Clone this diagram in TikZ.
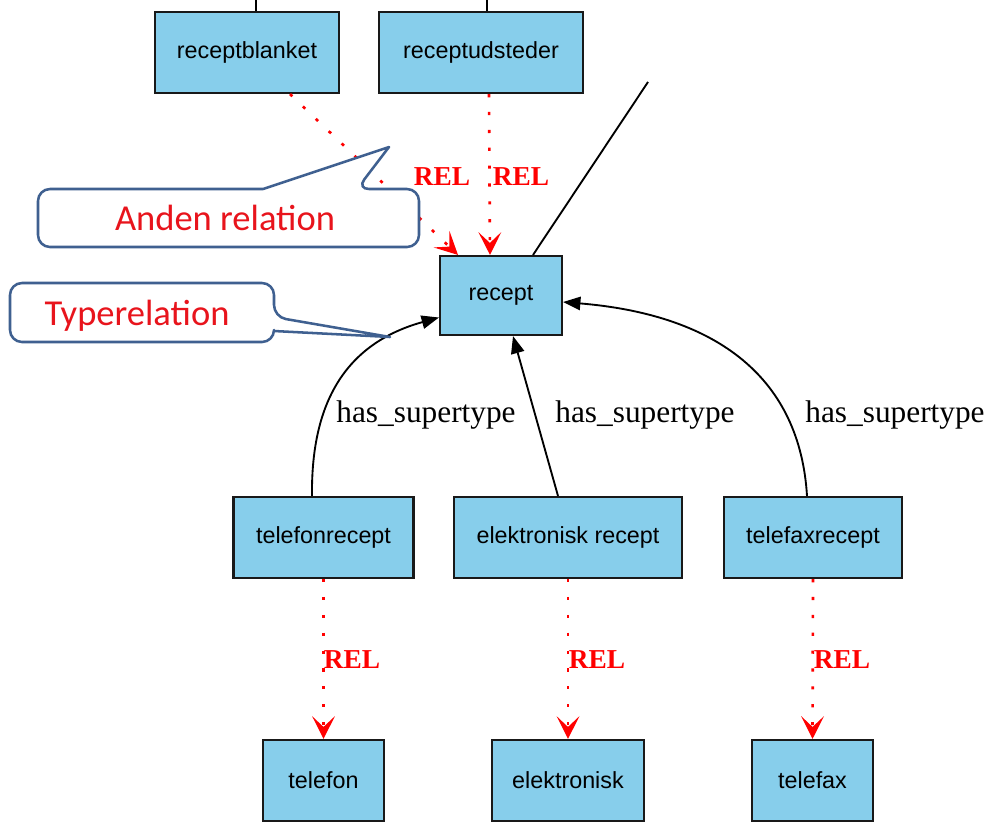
\documentclass[tikz,border=0pt]{standalone}
\usepackage{fontspec}
\setmainfont{Liberation Serif}
\newfontfamily\boxfont{Liberation Sans}
\newfontfamily\callfont{Carlito}
\usetikzlibrary{arrows.meta,calc}
\definecolor{skyfill}{HTML}{87CEEB}
\definecolor{callline}{HTML}{3F6090}
\definecolor{relred}{HTML}{FF0000}
\definecolor{calltext}{HTML}{E8141C}
\begin{document}
\begin{tikzpicture}[x=0.75pt,y=-0.75pt,
  box/.style={draw=black!90, line width=1.6pt, fill=skyfill, inner sep=0pt,
    minimum height=60.75pt, font=\boxfont\fontsize{17.5}{20}\selectfont},
  rel/.style={draw=relred, line width=2pt, dash pattern=on 2.4pt off 11pt,
    -{Stealth[length=17pt,width=17pt,inset=8pt]}},
  sup/.style={draw=black, line width=1.4pt, -{Triangle[length=13pt,width=10pt]}},
  plain/.style={draw=black, line width=1.4pt},
  rellabel/.style={text=relred, font=\bfseries\fontsize{20.5}{22}\selectfont, inner sep=0pt},
  suplabel/.style={text=black, font=\fontsize{23.5}{26}\selectfont, inner sep=0pt},
  callout/.style={draw=callline, line width=1.9pt, fill=white, line join=round},
  calllabel/.style={text=calltext, font=\callfont\fontsize{27.4}{30}\selectfont, inner sep=0pt}
]
\useasboundingbox (0,0) rectangle (987,822);

% concept boxes
\node[box, minimum width=138pt]  (rb)  at (247,52.5)   {receptblanket};
\node[box, minimum width=153pt]  (ru)  at (481,52.5)   {receptudsteder};
\node[box, minimum width=91.5pt, minimum height=59.25pt] (rc) at (501,295.5) {recept};
\node[box, minimum width=135pt]  (tr)  at (323.5,537.5) {telefonrecept};
\node[box, minimum width=171pt]  (er)  at (568,537.5)   {elektronisk recept};
\node[box, minimum width=133.5pt] (tx) at (813,537.5)   {telefaxrecept};
\node[box, minimum width=90.75pt] (tf) at (323.5,780.5) {telefon};
\node[box, minimum width=114pt]  (el)  at (568,780.5)   {elektronisk};
\node[box, minimum width=90.75pt] (tfx) at (812.5,780.5) {telefax};

% edges leaving the visible area
\coordinate (rbup) at (256,0);
\coordinate (ruup) at (487,0);
\coordinate (rcup) at (648,82);
\draw[plain] ($(rb.north)+(9,0)$) -- (rbup);
\draw[plain] ($(ru.north)+(6,0)$) -- (ruup);
\draw[plain] ($(rc.north)+(32,0)$) -- (rcup);

% REL relations
\draw[rel] ($(rb.south)+(43,0)$) -- ($(rc.north)+(-43,0)$);
\draw[rel] ($(ru.south)+(8,0)$) -- ($(rc.north)+(-11,0)$);
\draw[rel] (tr.south) -- (tf.north);
\draw[rel] (er.south) -- (el.north);
\draw[rel] (tx.south) -- (tfx.north);
\node[rellabel] (rl1) at (442,177) {REL};
\node[rellabel] (rl2) at (521,177) {REL};
\node[rellabel] (rl3) at (352,660) {REL};
\node[rellabel] (rl4) at (597,660) {REL};
\node[rellabel] (rl5) at (842,660) {REL};

% has_supertype relations
\draw[sup] ($(tr.north)+(-11.5,0)$) .. controls (311,410) and (340,345) .. ($(rc.west)+(0,22)$);
\draw[sup] ($(er.north)+(-10,0)$) -- ($(rc.south)+(12,0)$);
\draw[sup] ($(tx.north)+(-6,0)$) .. controls (800,380) and (720,315) .. ($(rc.east)+(0,6.5)$);
\node[suplabel] (sl1) at (426,415) {has\_supertype};
\node[suplabel] (sl2) at (645,415) {has\_supertype};
\node[suplabel] (sl3) at (895,415) {has\_supertype};

% callouts
\draw[callout, rounded corners=9pt] (150,189) -- (38,189) -- (38,247) -- (419,247) -- (419,189)
  -- (357,189) [sharp corners] -- (389,147) -- (263,189) -- cycle;
\node[calllabel] (c1) at (225,218) {Anden relation};
\draw[callout, rounded corners=9pt] (150,283) -- (274,283) -- (274,317) [sharp corners] -- (390,337)
  -- (274,331) [rounded corners=9pt] -- (274,342) -- (10,342) -- (10,283) -- cycle;
\node[calllabel] (c2) at (137,316) {Typerelation};
\end{tikzpicture}
\end{document}
